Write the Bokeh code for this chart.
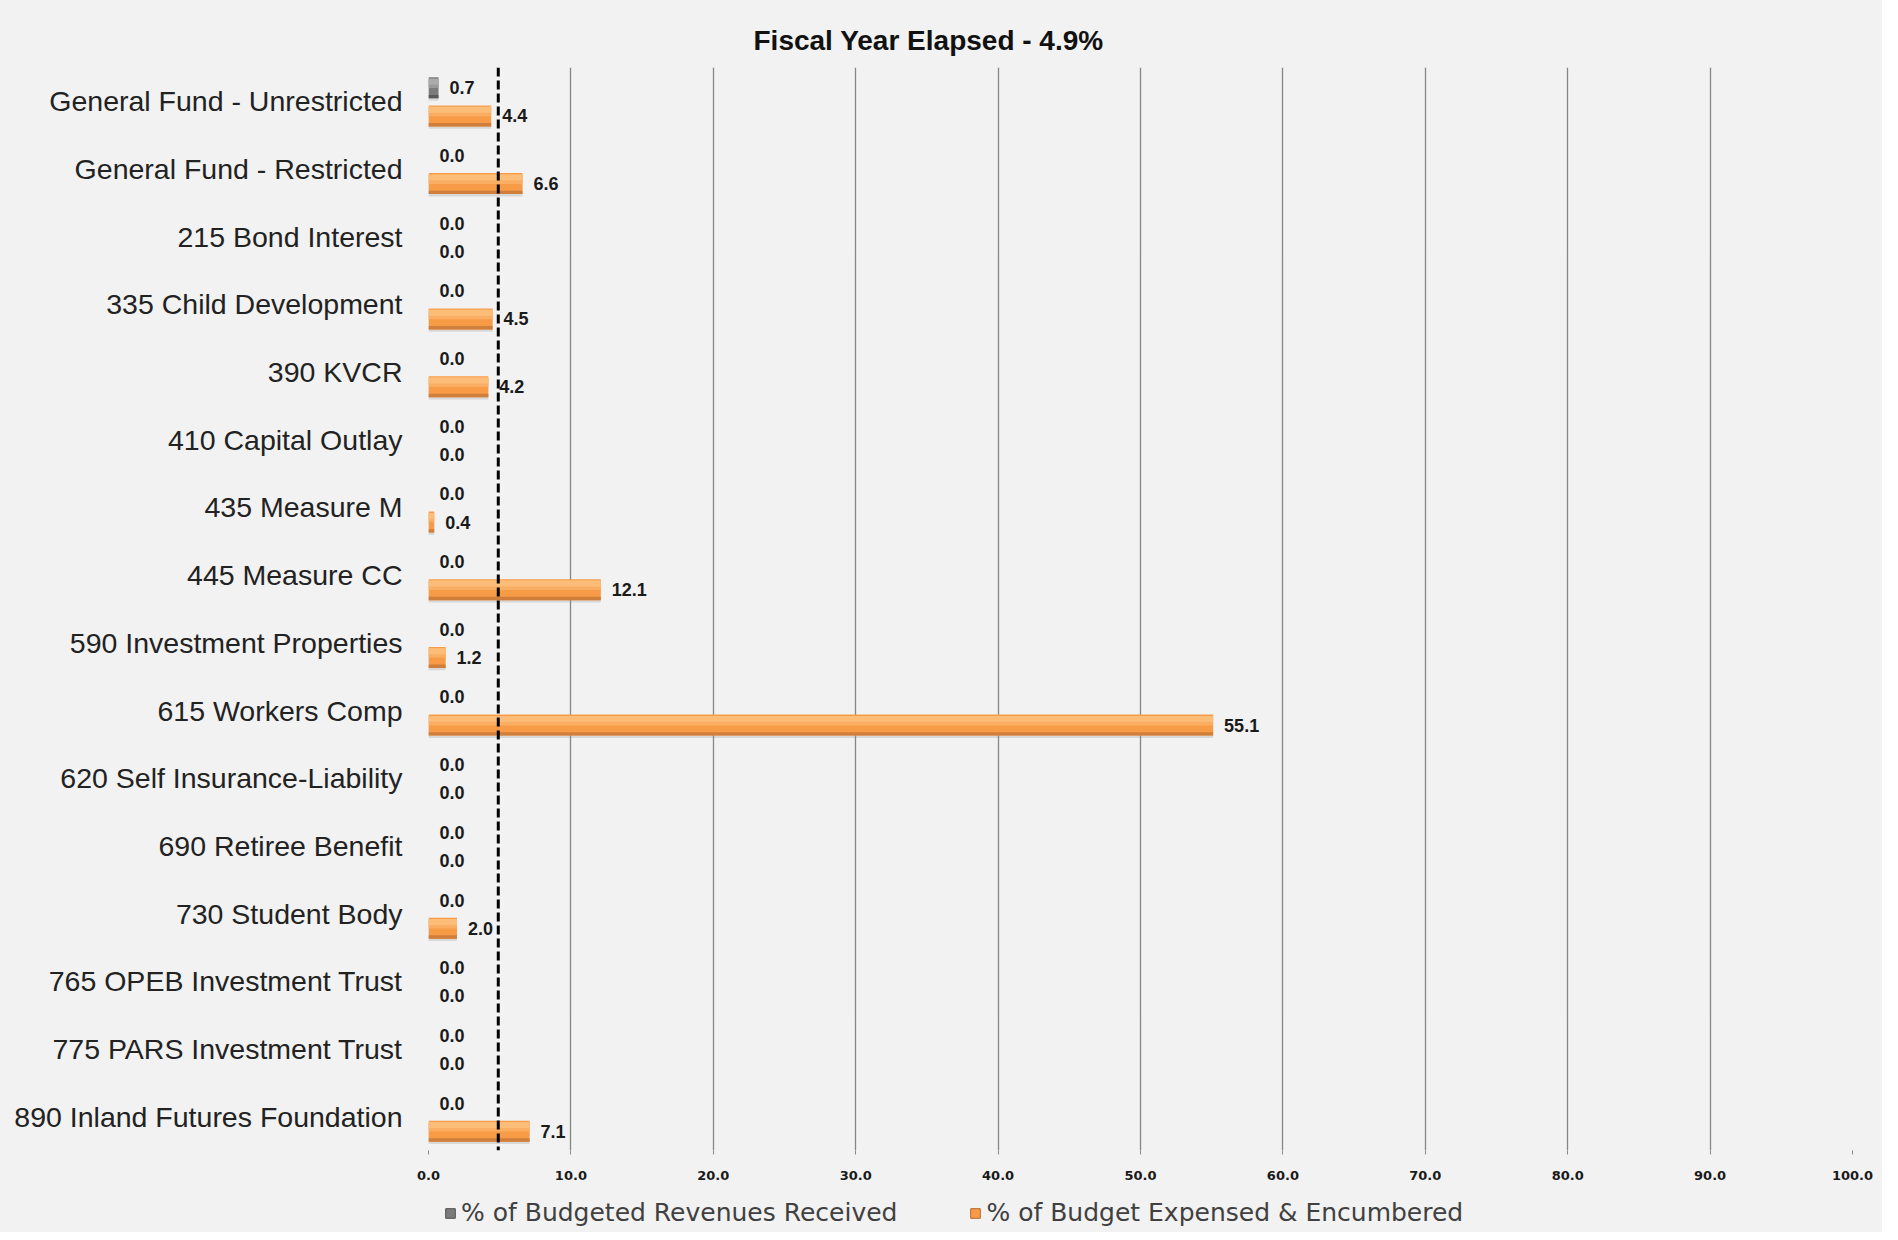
from bokeh.plotting import figure
from bokeh.layouts import column
from bokeh.models import (ColumnDataSource, FactorRange, Range1d, Span, Legend, LegendItem,
                          Title, FixedTicker, NumeralTickFormatter, LabelSet)
from bokeh.transform import dodge
from bokeh.core.properties import value
from bokeh.embed import file_html
from bokeh.resources import INLINE

# ---- data ----
funds = [
    "General Fund - Unrestricted",
    "General Fund - Restricted",
    "215 Bond Interest",
    "335 Child Development",
    "390 KVCR",
    "410 Capital Outlay",
    "435 Measure M",
    "445 Measure CC",
    "590 Investment Properties",
    "615 Workers Comp",
    "620 Self Insurance-Liability",
    "690 Retiree Benefit",
    "730 Student Body",
    "765 OPEB Investment Trust",
    "775 PARS Investment Trust",
    "890 Inland Futures Foundation",
]
revenues_received = [0.7, 0.0, 0.0, 0.0, 0.0, 0.0, 0.0, 0.0, 0.0, 0.0, 0.0, 0.0, 0.0, 0.0, 0.0, 0.0]
budget_expensed = [4.4, 6.6, 0.0, 4.5, 4.2, 0.0, 0.4, 12.1, 1.2, 55.1, 0.0, 0.0, 2.0, 0.0, 0.0, 7.1]
fiscal_year_elapsed = 4.9
x_ticks = [0, 10, 20, 30, 40, 50, 60, 70, 80, 90, 100]
series_names = ["% of Budgeted Revenues Received", "% of Budget Expensed & Encumbered"]

GREY = "#7B7B7B"
ORANGE = "#F79B47"
BG = "#F2F2F2"

src = ColumnDataSource(dict(
    fund=funds,
    rev=revenues_received,
    exp=budget_expensed,
    rev_txt=[f"{v:.1f}" for v in revenues_received],
    exp_txt=[f"{v:.1f}" for v in budget_expensed],
))

p = figure(width=1882, height=1188, output_backend="svg", toolbar_location=None,
           y_range=FactorRange(factors=funds[::-1]), x_range=Range1d(0, 100),
           min_border_left=428, min_border_right=30, min_border_top=67, min_border_bottom=38,
           background_fill_color=BG, border_fill_color=BG, outline_line_color=None)

H = 0.31
OFF_R = 0.2
OFF_E = -0.215

yr = dodge("fund", OFF_R, range=p.y_range)
ye = dodge("fund", OFF_E, range=p.y_range)

# shadows
p.hbar(y=dodge("fund", OFF_R - 0.035, range=p.y_range), left=0, right="rev", height=H, source=src,
       fill_color="#8c8c8c", fill_alpha=0.25, line_color=None)
p.hbar(y=dodge("fund", OFF_E - 0.035, range=p.y_range), left=0, right="exp", height=H, source=src,
       fill_color="#8c8c8c", fill_alpha=0.25, line_color=None)

# base bars
p.hbar(y=yr, left=0, right="rev", height=H, source=src, fill_color=GREY, line_color=None)
p.hbar(y=ye, left=0, right="exp", height=H, source=src, fill_color=ORANGE, line_color=None)

# soft highlight on the upper part, darker lower edge
for frac, col_r, col_e in [(0.45, "#9A9A9A", "#FAAE63"), (0.28, "#ABABAB", "#FCBD78")]:
    p.hbar(y=dodge("fund", OFF_R + H / 2 - H * frac / 2 - 0.02, range=p.y_range), left=0, right="rev",
           height=H * frac, source=src, fill_color=col_r, line_color=None)
    p.hbar(y=dodge("fund", OFF_E + H / 2 - H * frac / 2 - 0.02, range=p.y_range), left=0, right="exp",
           height=H * frac, source=src, fill_color=col_e, line_color=None)
p.hbar(y=dodge("fund", OFF_R - H / 2 + 0.025, range=p.y_range), left=0, right="rev", height=0.05,
       source=src, fill_color="#5a5a5a", line_color=None)
p.hbar(y=dodge("fund", OFF_E - H / 2 + 0.025, range=p.y_range), left=0, right="exp", height=0.05,
       source=src, fill_color="#CF7E3C", line_color=None)

# value labels
lab_kw = dict(text_font=value("Liberation Sans"), text_font_style="bold", text_font_size="18px",
              text_color="#1a1a1a", text_baseline="middle", x_offset=11)
p.add_layout(LabelSet(x="rev", y=yr, text="rev_txt", source=src, **lab_kw))
p.add_layout(LabelSet(x="exp", y=ye, text="exp_txt", source=src, **lab_kw))

# fiscal year elapsed marker
p.add_layout(Span(location=fiscal_year_elapsed, dimension="height", line_color="black",
                  line_width=3, line_dash="9 4"))

# axes / grid
p.xaxis.ticker = FixedTicker(ticks=x_ticks)
p.xaxis.formatter = NumeralTickFormatter(format="0.0")
p.xaxis.axis_line_color = None
p.xaxis.major_tick_line_color = "#868686"
p.xaxis.major_tick_in = 0
p.xaxis.major_tick_out = 4
p.xaxis.minor_tick_line_color = None
p.xaxis.major_label_text_font = "DejaVu Sans"
p.xaxis.major_label_text_font_style = "bold"
p.xaxis.major_label_text_font_size = "13px"
p.xaxis.major_label_text_color = "#1a1a1a"
p.xaxis.major_label_standoff = 16

p.yaxis.axis_line_color = None
p.yaxis.major_tick_line_color = None
p.yaxis.minor_tick_line_color = None
p.yaxis.major_label_text_font = "Liberation Sans"
p.yaxis.major_label_text_font_size = "28.5px"
p.yaxis.major_label_text_color = "#222222"
p.yaxis.major_label_standoff = 20

p.xgrid.grid_line_color = "#868686"
p.xgrid.grid_line_width = 1.3
p.ygrid.grid_line_color = None

# title
p.add_layout(Title(text="Fiscal Year Elapsed - 4.9%", align="left", offset=325,
                   text_font="Liberation Sans", text_font_style="bold", text_font_size="28px",
                   text_color="#111111", standoff=24), "above")

# legend strip (separate small figure below the chart; its frame is aligned with the chart's)
lg = figure(width=1882, height=44, output_backend="svg", toolbar_location=None,
            x_range=Range1d(0, 1), y_range=Range1d(0, 1),
            x_axis_location=None, y_axis_location=None,
            min_border_left=0, min_border_right=0, min_border_top=0, min_border_bottom=0,
            background_fill_color=BG, border_fill_color=BG, outline_line_color=None)
lg.xgrid.grid_line_color = None
lg.ygrid.grid_line_color = None
# legend proxies, placed entirely outside the strip's visible x and y ranges
g1 = lg.hbar(y=[-5], left=[-5], right=[-4], height=0.5,
             fill_color=GREY, line_color="#4f4f4f")
g2 = lg.hbar(y=[-5], left=[-5], right=[-4], height=0.5,
             fill_color=ORANGE, line_color="#B8672B")
legend = Legend(items=[LegendItem(label=series_names[0], renderers=[g1]),
                       LegendItem(label=series_names[1], renderers=[g2])],
                orientation="horizontal", location=(16, 5), padding=0, margin=0,
                spacing=72, glyph_width=12, glyph_height=12, label_standoff=5,
                label_text_font="DejaVu Sans", label_text_font_size="25px",
                label_text_color="#404040", background_fill_alpha=0, border_line_color=None)
lg.add_layout(legend, "center")

layout = column(p, lg, spacing=0, styles={"background-color": BG})
open("out.html", "w").write(file_html(layout, INLINE))
